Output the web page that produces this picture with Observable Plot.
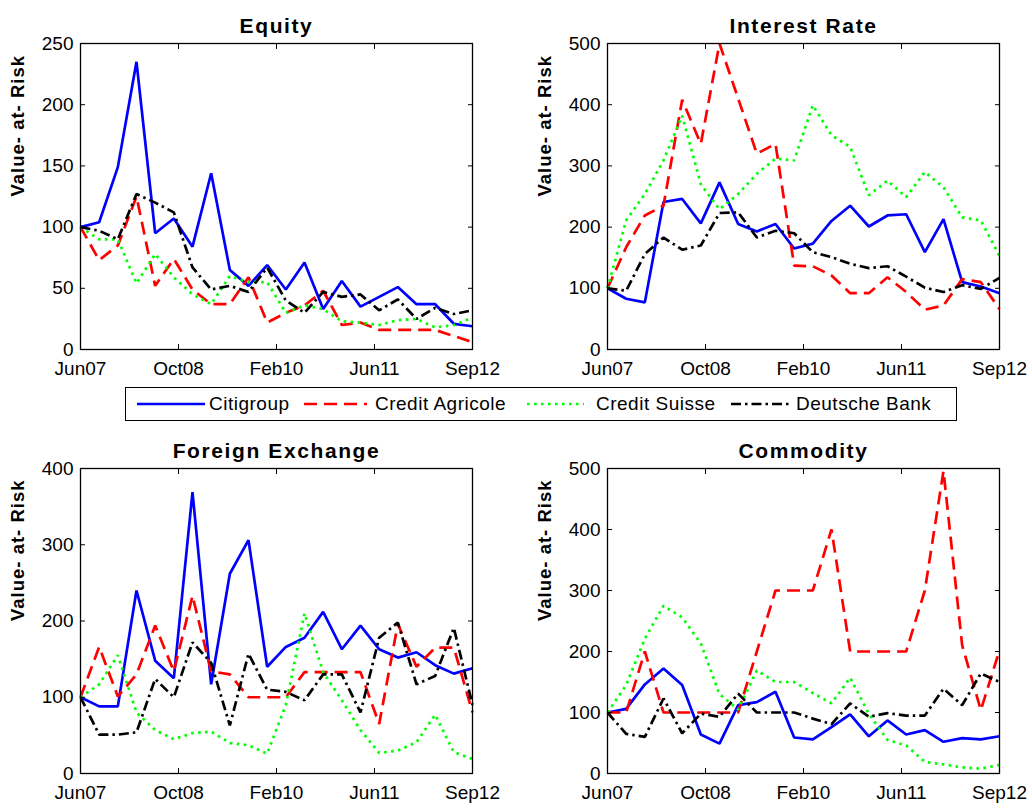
<!DOCTYPE html>
<html>
<head>
<meta charset="utf-8">
<script src="https://cdn.jsdelivr.net/npm/d3@7"></script>
<script src="https://cdn.jsdelivr.net/npm/@observablehq/plot@0.6"></script>
<style>
  body { margin: 0; background: #fff; }
  #wrap { position: relative; width: 1032px; height: 808px; font-family: "Liberation Sans", Arial, sans-serif; background: #fff; overflow: hidden; }
  .panel { position: absolute; }
  .panel svg { overflow: visible; }
  #legend { position: absolute; left: 125px; top: 387px; width: 832px; height: 34px; border: 1.3px solid #000; box-sizing: border-box; background: #fff; }
  .li { position: absolute; top: 0; height: 32px; }
  .lt { position: absolute; top: 5px; font-size: 19px; letter-spacing: 0.5px; line-height: 22px; color: #000; white-space: nowrap; }
</style>
</head>
<body>
<div id="wrap"></div>
<script>
// ---- data ----
const quarters = ["Jun07","Sep07","Dec07","Mar08","Jun08","Sep08","Dec08","Mar09","Jun09","Sep09","Dec09",
                  "Mar10","Jun10","Sep10","Dec10","Mar11","Jun11","Sep11","Dec11","Mar12","Jun12","Sep12"];
const xTickLabels = ["Jun07","Oct08","Feb10","Jun11","Sep12"];
const banks = ["Citigroup","Credit Agricole","Credit Suisse","Deutsche Bank"];
const yLabel = "Value- at- Risk";

const equityCiti = [100,104,149,235,95,107,84,144,65,52,69,49,71,33,56,35,43,51,37,37,21,19];
const equityCA   = [100,73,85,125,52,74,49,37,37,59,22,30,36,48,20,22,16,16,16,16,11,6];
const equityCS   = [100,90,90,54,78,59,45,37,60,55,55,30,36,33,23,22,20,24,25,18,20,26];
const equityDB   = [100,97,90,127,120,112,67,49,52,47,67,40,30,47,43,45,32,41,25,34,29,32];

const irCiti = [100,83,77,241,246,206,273,205,193,205,165,173,210,235,201,219,221,159,213,110,103,92];
const irCA   = [100,167,219,235,408,336,500,410,320,336,137,136,121,92,92,118,94,65,72,115,110,66];
const irCS   = [100,211,254,309,382,270,229,254,287,312,309,399,350,331,252,276,249,290,265,216,211,153];
const irDB   = [100,96,156,183,163,170,223,224,183,194,190,159,151,140,133,136,119,101,94,105,99,117];

const fxCiti = [100,88,88,240,148,125,369,117,262,306,140,166,178,212,163,194,163,152,159,142,131,138];
const fxCA   = [100,166,101,130,194,134,233,134,130,100,100,100,133,133,133,133,65,196,140,165,165,80];
const fxCS   = [100,117,155,80,57,45,53,55,40,37,26,90,210,133,96,57,27,30,41,77,28,19];
const fxDB   = [100,51,51,54,124,100,172,145,63,157,110,107,96,130,130,80,178,198,117,128,191,90];

const comCiti = [100,106,146,172,145,64,49,112,117,134,59,56,76,97,61,87,64,71,52,58,56,61];
const comCA   = [100,100,200,100,100,100,100,100,200,300,300,300,400,200,200,200,200,300,496,210,104,202];
const comCS   = [100,145,221,275,256,213,130,105,169,150,150,132,115,157,98,55,46,19,15,10,8,14];
const comDB   = [100,65,60,123,66,98,93,131,100,100,100,90,81,115,93,99,95,95,139,112,164,150];

// ---- styles per bank ----
const bankStyle = {
  "Citigroup":       {stroke: "#0000ff", strokeDasharray: null,       strokeLinecap: "butt"},
  "Credit Agricole": {stroke: "#ff0000", strokeDasharray: "13,7",     strokeLinecap: "butt"},
  "Credit Suisse":   {stroke: "#00ff00", strokeDasharray: "2.6,4.4",  strokeLinecap: "butt"},
  "Deutsche Bank":   {stroke: "#000000", strokeDasharray: "10,4,2.5,4", strokeLinecap: "butt"}
};

const n = quarters.length;
const xTicks = d3.range(xTickLabels.length).map(k => k * (n - 1) / (xTickLabels.length - 1));

function panel({title, series, yMax, yStep, left, top, width, height, mL, mR, mT, mB}) {
  const yTicks = d3.range(0, yMax + 1e-9, yStep);
  const lines = banks.map((b, bi) => {
    const data = series[bi].map((v, i) => ({i, v}));
    const s = bankStyle[b];
    return Plot.line(data, {x: "i", y: "v", stroke: s.stroke, strokeWidth: 2.7,
      strokeDasharray: s.strokeDasharray, strokeLinecap: s.strokeLinecap, strokeLinejoin: "miter"});
  });
  const chart = Plot.plot({
    width, height,
    marginLeft: mL, marginRight: mR, marginTop: mT, marginBottom: mB,
    x: {domain: [0, n - 1]},
    y: {domain: [0, yMax]},
    style: {fontFamily: "'Liberation Sans', Arial, sans-serif", fontSize: "19px", color: "#000", background: "transparent"},
    marks: [
      ...lines,
      Plot.frame({stroke: "#000", strokeWidth: 1.3}),
      Plot.axisY(yTicks, {anchor: "left", tickSize: 5, insetLeft: 5, tickPadding: 7, label: null, fontSize: 19, strokeWidth: 1}),
      Plot.axisY(yTicks, {anchor: "right", tickSize: 5, insetRight: 5, tickFormat: () => "", label: null, strokeWidth: 1}),
      Plot.axisX(xTicks, {anchor: "bottom", tickSize: 5, insetBottom: 5, tickPadding: 12, label: null, fontSize: 19, strokeWidth: 1,
        tickFormat: d => xTickLabels[xTicks.indexOf(d)]}),
      Plot.axisX(xTicks, {anchor: "top", tickSize: 5, insetTop: 5, tickFormat: () => "", label: null, strokeWidth: 1}),
      Plot.text([title], {text: d => d, frameAnchor: "top", dy: -25, fontSize: 21, fontWeight: "bold", fill: "#000"}),
      Plot.text([yLabel], {text: d => d, frameAnchor: "left", dx: -62, rotate: -90, fontSize: 18.5, fontWeight: "bold", fill: "#000"})
    ]
  });
  // letter spacing for the title and y label (MATLAB-like wide bold text)
  chart.querySelectorAll("text").forEach(t => {
    if (t.textContent === title) t.style.letterSpacing = "1.6px";
    else if (t.textContent === yLabel) t.style.letterSpacing = "1px";
  });
  const div = document.createElement("div");
  div.className = "panel";
  div.style.left = left + "px";
  div.style.top = top + "px";
  div.appendChild(chart);
  document.getElementById("wrap").appendChild(div);
}

panel({title: "Equity", series: [equityCiti, equityCA, equityCS, equityDB], yMax: 250, yStep: 50,
  left: 0, top: 0, width: 516, height: 385, mL: 80, mR: 44, mT: 43, mB: 36});
panel({title: "Interest Rate", series: [irCiti, irCA, irCS, irDB], yMax: 500, yStep: 100,
  left: 516, top: 0, width: 516, height: 385, mL: 91, mR: 33, mT: 43, mB: 36});
panel({title: "Foreign Exchange", series: [fxCiti, fxCA, fxCS, fxDB], yMax: 400, yStep: 100,
  left: 0, top: 420, width: 516, height: 388, mL: 80, mR: 44, mT: 48, mB: 35});
panel({title: "Commodity", series: [comCiti, comCA, comCS, comDB], yMax: 500, yStep: 100,
  left: 516, top: 420, width: 516, height: 388, mL: 91, mR: 33, mT: 48, mB: 35});

// ---- legend ----
const legendPos = [
  {x1: 11, x2: 79, tx: 83},
  {x1: 178, x2: 241, tx: 249},
  {x1: 401, x2: 458, tx: 470},
  {x1: 605, x2: 663, tx: 670}
];
const legend = document.createElement("div");
legend.id = "legend";
banks.forEach((b, k) => {
  const s = bankStyle[b];
  const p = legendPos[k];
  const ns = "http://www.w3.org/2000/svg";
  const svg = document.createElementNS(ns, "svg");
  svg.setAttribute("class", "li");
  svg.setAttribute("width", p.x2 - p.x1);
  svg.setAttribute("height", 32);
  svg.style.left = p.x1 + "px";
  const ln = document.createElementNS(ns, "line");
  ln.setAttribute("x1", 0); ln.setAttribute("x2", p.x2 - p.x1);
  ln.setAttribute("y1", 16); ln.setAttribute("y2", 16);
  ln.setAttribute("stroke", s.stroke);
  ln.setAttribute("stroke-width", 2.7);
  if (s.strokeDasharray) ln.setAttribute("stroke-dasharray", s.strokeDasharray);
  svg.appendChild(ln);
  legend.appendChild(svg);
  const t = document.createElement("div");
  t.className = "lt";
  t.style.left = p.tx + "px";
  t.textContent = b;
  legend.appendChild(t);
});
document.getElementById("wrap").appendChild(legend);
</script>
</body>
</html>
